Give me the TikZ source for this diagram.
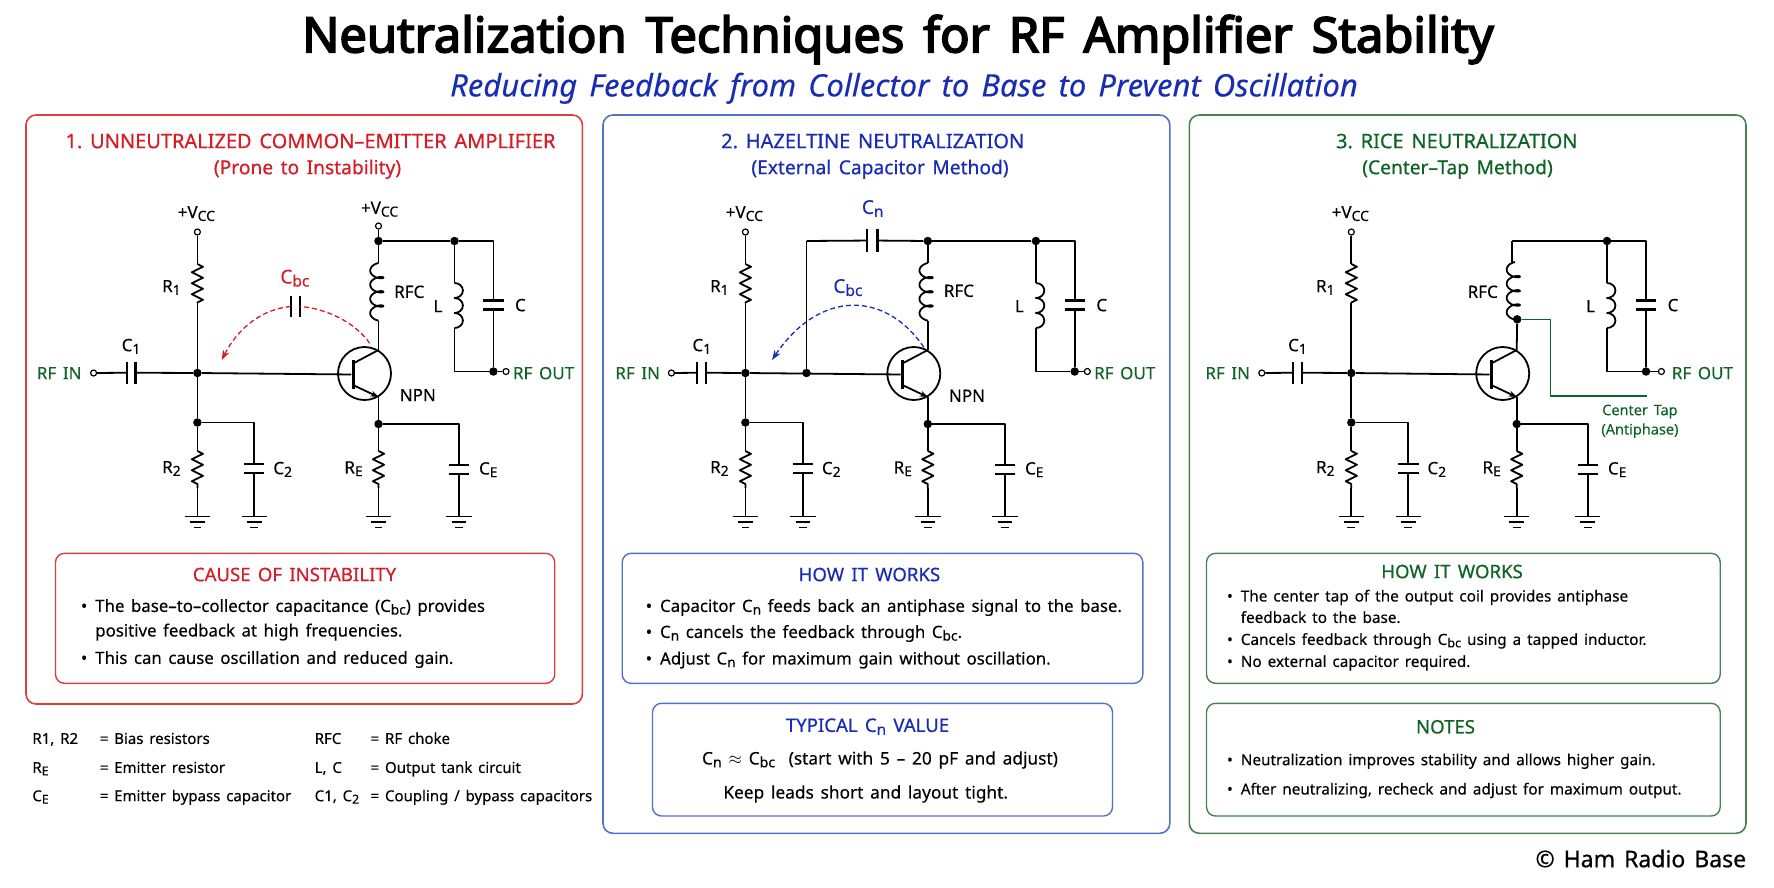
\documentclass[tikz,border=0pt]{standalone}
\usepackage{fontspec}
\setmainfont[WordSpace=1.5,FakeBold=0.2]{Noto Sans}
\newfontfamily\headfont[Ligatures=TeX,WordSpace=1.5,FakeBold=0.6]{Noto Sans}
\newfontfamily\titlefont[Ligatures=TeX,WordSpace=1.5,FakeBold=3.5]{Noto Sans}
\usetikzlibrary{positioning,arrows.meta,decorations.pathmorphing}

\definecolor{redtxt}{RGB}{214,28,38}
\definecolor{redline}{RGB}{222,62,62}
\definecolor{bluetxt}{RGB}{24,44,180}
\definecolor{blueline}{RGB}{84,112,200}
\definecolor{greentxt}{RGB}{14,100,36}
\definecolor{greenline}{RGB}{70,130,82}

\newcommand\low[1]{\raisebox{-.3ex}{\scalebox{.82}{#1}}}
\newcommand\bul{\llap{\textbullet\hspace{8pt}}}
% choke with small loops, x then top y
\newcommand\rfccoil[2]{\draw[wire] plot[domain=75:1365,samples=180,variable=\u]
  ({#1-1.7+6.6*cos(\u)},{-(#2+2.26*rad(\u-75)-3.5*sin(\u)+3.38)});}

\tikzset{
  wire/.style={line width=1.8pt,black,line join=round},
  plate/.style={line width=2.2pt,black},
  gline/.style={line width=1.8pt,black},
  junction/.style={circle,fill=black,minimum size=8.5pt},
  term/.style={circle,draw=black,fill=white,line width=1.2pt,minimum size=6pt},
  capv/.style={minimum width=20pt,minimum height=8.5pt,
    append after command={(\tikzlastnode.north west) edge[plate] (\tikzlastnode.north east)
      (\tikzlastnode.south west) edge[plate] (\tikzlastnode.south east)}},
  caph/.style={minimum width=8.5pt,minimum height=21.5pt,
    append after command={(\tikzlastnode.north west) edge[plate] (\tikzlastnode.south west)
      (\tikzlastnode.north east) edge[plate] (\tikzlastnode.south east)}},
  gnd/.style={minimum width=25pt,minimum height=10.6pt,
    append after command={(\tikzlastnode.north west) edge[gline] (\tikzlastnode.north east)
      ([xshift=5.4pt]\tikzlastnode.west) edge[gline] ([xshift=-5.4pt]\tikzlastnode.east)
      ([xshift=8.8pt]\tikzlastnode.south west) edge[gline] ([xshift=-8.8pt]\tikzlastnode.south east)}},
  zig/.style={wire,decorate,decoration={zigzag,segment length=11pt,amplitude=5.6pt}},
  qcircle/.style={circle,draw=black,line width=1.8pt,minimum size=53pt},
  qbar/.style={fill=black,minimum width=3pt,minimum height=29pt},
  cirtxt/.style={anchor=mid,yshift=-3.5pt,font=\fontsize{17}{20}\selectfont},
  bigtxt/.style={anchor=mid,yshift=-3.5pt,font=\fontsize{19}{22}\selectfont},
  tiptxt/.style={anchor=mid,yshift=-3.5pt,text=greentxt,font=\fontsize{14.5}{17}\selectfont},
  rftxt/.style={anchor=mid,yshift=-3.5pt,text=greentxt,font=\fontsize{17}{20}\selectfont},
  panel/.style={line width=1.6pt,rounded corners=10pt},
  infobox/.style={line width=1.4pt,rounded corners=9pt},
  headtxt/.style={anchor=mid,yshift=-3.5pt,font=\headfont\fontsize{20}{24}\selectfont},
  subtxt/.style={anchor=mid,yshift=-3.5pt,font=\headfont\fontsize{19.2}{22}\selectfont},
  boxhead/.style={anchor=mid,yshift=-3.5pt,font=\headfont\fontsize{18.6}{20}\selectfont},
  bodytxt/.style={anchor=mid west,yshift=-3.5pt,font=\fontsize{16.8}{20}\selectfont},
  smalltxt/.style={anchor=mid west,yshift=-3.5pt,font=\fontsize{15.3}{20}\selectfont},
  midtxt/.style={anchor=mid,yshift=-3.5pt,font=\fontsize{17.3}{20}\selectfont},
  legtxt/.style={anchor=mid west,yshift=-3.5pt,font=\fontsize{15}{18}\selectfont},
}

\begin{document}
\begin{tikzpicture}[x=1pt,y=1pt]
\tikzstyle{every node}+=[inner sep=0pt]
\useasboundingbox (0,0) rectangle (1774,-887);
% heading
\node (maintitle) at (898,-39.5) {\titlefont\fontsize{48.8}{52}\selectfont Neutralization Techniques for RF Amplifier Stability};
\node[text=bluetxt] (subtitle) at (904,-88.3) {\fontsize{31}{34}\selectfont\itshape Reducing Feedback from Collector to Base to Prevent Oscillation};
% panels
\draw[panel,redline] (26,-115) rectangle (582.4,-704);
\draw[panel,blueline] (603,-115) rectangle (1169.8,-833.3);
\draw[panel,greenline] (1189.3,-115) rectangle (1746,-833.3);
\node[headtxt,text=redtxt] (title1) at (310.5,-142) {1.\ UNNEUTRALIZED COMMON--EMITTER AMPLIFIER};
\node[subtxt,text=redtxt] (sub1) at (307.5,-168) {(Prone to Instability)};
\node[headtxt,text=bluetxt] (title2) at (872.7,-142) {2.\ HAZELTINE NEUTRALIZATION};
\node[subtxt,text=bluetxt] (sub2) at (880,-168) {(External Capacitor Method)};
\node[headtxt,text=greentxt] (title3) at (1456.8,-142) {3.\ RICE NEUTRALIZATION};
\node[subtxt,text=greentxt] (sub3) at (1457.5,-168) {(Center--Tap Method)};
% parts that all three circuits share
\foreach \p/\xin/\xterm/\xcap/\xb/\xctwo/\xq/\xce/\xl/\xc/\xot/\xrf in {
  a/59.2/93.6/131.1/197.4/254.2/378.5/458.8/454.5/493.4/506/543.6,
  b/637.7/671.4/701.8/745.4/802.8/927.8/1004.8/1035.9/1074.7/1087.3/1124.7,
  c/1227.7/1261.8/1297.5/1351.3/1408.3/1516.7/1587.7/1607/1646/1661.4/1702.4}
{
  \node[rftxt] (\p rfin) at (\xin,-373) {RF IN};
  \node[term] (\p in) at (\xterm,-373) {};
  \node[caph] (\p cone) at (\xcap,-372.7) {};
  \node[cirtxt] (\p conelbl) at (\xcap,-345) {C\low{1}};
  \node[junction] (\p base) at (\xb,-373) {};
  \node[term] (\p vcc) at (\xb,-232) {};
  \node[cirtxt] (\p vcclbl) at (\xb-1,-212) {+V\low{CC}};
  \coordinate (\p ra) at (\xb,-264);
  \coordinate (\p rb) at (\xb,-303);
  \node[cirtxt] (\p ronelbl) at (\xb-26,-286) {R\low{1}};
  \node[junction] (\p bias) at (\xb,-422.5) {};
  \coordinate (\p rc) at (\xb,-451);
  \coordinate (\p rd) at (\xb,-488);
  \node[cirtxt] (\p rtwolbl) at (\xb-26,-467) {R\low{2}};
  \node[gnd] (\p gone) at (\xb,-522) {};
  \node[capv] (\p ctwo) at (\xctwo,-468.4) {};
  \node[cirtxt] (\p ctwolbl) at (\xctwo+28.5,-468) {C\low{2}};
  \node[gnd] (\p gtwo) at (\xctwo,-522) {};
  \draw[wire] (\p in) -- (\p cone);
  \draw[wire] (\p cone) -- (\p base);
  \draw[wire] (\p vcc) -- (\p ra);
  \draw[zig] (\p ra) -- (\p rb);
  \draw[wire] (\p rb) -- (\p base);
  \draw[wire] (\p base) -- (\p bias);
  \draw[wire] (\p bias) -- (\p rc);
  \draw[zig] (\p rc) -- (\p rd);
  \draw[wire] (\p rd) -- (\p gone);
  \draw[wire] (\p bias) -| (\p ctwo);
  \draw[wire] (\p ctwo) -- (\p gtwo);
  % transistor
  \node[qcircle] (\p q) at (\xq-14,-373.5) {};
  \node[qbar] (\p bar) at (\xq-25.5,-374.5) {};
  \coordinate (\p qcs) at (\xq-25.5,-363.5);
  \coordinate (\p qes) at (\xq-25.5,-385);
  \coordinate (\p qc) at (\xq,-350);
  \coordinate (\p qe) at (\xq,-397);
  \draw[wire] (\p base) -- (\p bar);
  \draw[wire] (\p qcs) -- (\p qc);
  \draw[wire,-{Stealth[length=8pt,width=6pt]}] (\p qes) -- (\p qe);
  % emitter leg
  \node[junction] (\p ej) at (\xq,-424) {};
  \coordinate (\p rf) at (\xq,-451);
  \coordinate (\p rg) at (\xq,-488);
  \node[cirtxt] (\p relbl) at (\xq-25,-467.3) {R\low{E}};
  \node[gnd] (\p gthree) at (\xq,-522) {};
  \node[capv] (\p cem) at (\xce,-469.2) {};
  \node[cirtxt] (\p cemlbl) at (\xce+29.5,-468.3) {C\low{E}};
  \node[gnd] (\p gfour) at (\xce,-522) {};
  \draw[wire] (\p qe) -- (\p ej);
  \draw[wire] (\p ej) -- (\p rf);
  \draw[zig] (\p rf) -- (\p rg);
  \draw[wire] (\p rg) -- (\p gthree);
  \draw[wire] (\p ej) -| (\p cem);
  \draw[wire] (\p cem) -- (\p gfour);
  % output tank
  \node[junction] (\p ltop) at (\xl,-241) {};
  \coordinate (\p la) at (\xl,-283);
  \coordinate (\p lb) at (\xl,-328);
  \node[cirtxt] (\p llbl) at (\xl-16.5,-306) {L};
  \node[capv] (\p ctank) at (\xc,-305) {};
  \node[cirtxt] (\p clbl) at (\xc+27,-305) {C};
  \node[junction] (\p out) at (\xc,-371.5) {};
  \node[term] (\p outterm) at (\xot,-371.5) {};
  \node[rftxt] (\p rfout) at (\xrf,-373) {RF OUT};
  \draw[wire] (\p ltop) -- (\p la);
  \draw[wire] (\p la) arc[start angle=90,end angle=-90,x radius=8.4,y radius=7.5]
    arc[start angle=90,end angle=-90,x radius=8.4,y radius=7.5]
    arc[start angle=90,end angle=-90,x radius=8.4,y radius=7.5];
  \draw[wire] (\p lb) |- (\p out);
  \draw[wire] (\p ltop) -| (\p ctank);
  \draw[wire] (\p ctank) -- (\p out);
  \draw[wire] (\p out) -- (\p outterm);
}
% circuit 1
\node[term] (avcctwo) at (378.5,-226) {};
\node[cirtxt] (avcctwolbl) at (379.6,-207.7) {+V\low{CC}};
\node[junction] (atop) at (378.5,-241) {};
\coordinate (acoila) at (378.5,-263);
\coordinate (acoilb) at (378.5,-320.5);
\rfccoil{378.5}{263}
\node[cirtxt] (arfc) at (409.2,-291.7) {RFC};
\node[cirtxt] (anpn) at (417.8,-395) {NPN};
\draw[wire] (avcctwo) -- (atop);
\draw[wire] (atop) -- (altop);
\draw[wire] (atop) -- (acoila);
\draw[wire] (acoilb) -- (aqc);
\node[caph,minimum height=21pt] (acbc) at (295.2,-306.5) {};
\node[bigtxt,text=redtxt] (acbclbl) at (294.9,-277.3) {C\low{bc}};
\coordinate (afbs) at (369.7,-343.3);
\coordinate (afbe) at (221.7,-360);
\draw[redtxt,line width=1.3pt,dash pattern=on 5pt off 3pt] (afbs) .. controls (355,-322) and (325,-308) .. (acbc.east);
\draw[redtxt,line width=1.3pt,dash pattern=on 5pt off 3pt,-{Stealth[length=10pt,width=7pt]}] (acbc.west) .. controls (262,-309) and (238,-328) .. (afbe);
% circuit 2
\node[junction] (btop) at (927.8,-241) {};
\node[junction] (bfeed) at (806.5,-373) {};
\coordinate (bcorner) at (806.5,-241);
\node[caph,minimum width=10pt,minimum height=23.5pt] (bcn) at (872.3,-240.5) {};
\node[bigtxt,text=bluetxt] (bcnlbl) at (872.7,-207.7) {C\low{n}};
\coordinate (bcoila) at (927.8,-263);
\coordinate (bcoilb) at (927.8,-320.5);
\rfccoil{927.8}{263}
\node[cirtxt] (brfc) at (958.9,-290.7) {RFC};
\node[cirtxt] (bnpn) at (967,-395.7) {NPN};
\draw[wire] (bfeed) -- (bcorner);
\draw[wire] (bcorner) -- (bcn);
\draw[wire] (bcn) -- (btop);
\draw[wire] (btop) -- (bltop);
\draw[wire] (btop) -- (bcoila);
\draw[wire] (bcoilb) -- (bqc);
\node[bigtxt,text=bluetxt] (bcbclbl) at (847.9,-286.7) {C\low{bc}};
\coordinate (bfbs) at (923.8,-347.3);
\coordinate (bfbe) at (772,-360);
\draw[bluetxt,line width=1.3pt,dash pattern=on 5pt off 3pt,-{Stealth[length=10pt,width=7pt]}] (bfbs) .. controls (885,-290) and (819,-290) .. (bfbe);
% circuit 3
\coordinate (ccorner) at (1512.3,-241);
\coordinate (ccoila) at (1512.3,-262);
\coordinate (ccoilb) at (1516.7,-319);
\rfccoil{1515}{262}
\node[cirtxt] (crfc) at (1482.7,-291.7) {RFC};
\node[junction] (ctap) at (1517.2,-319.3) {};
\coordinate (ctapa) at (1550.7,-319.3);
\coordinate (ctapb) at (1550.7,-396);
\coordinate (ctapc) at (1646.9,-396);
\draw[wire] (ccorner) -- (cltop);
\draw[wire] (ccorner) -- (ccoila);
\draw[wire] (ctap) -- (cqc);
\draw[greentxt,line width=1.2pt] (ctap) -- (ctapa) -- (ctapb) -- (ctapc);
\node[tiptxt] (ctaplbl) at (1639.9,-409) {Center Tap};
\node[tiptxt] (cantilbl) at (1639.9,-428.3) {(Antiphase)};
% text boxes
\draw[infobox,redline] (55.5,-553.3) rectangle (554.7,-683.3);
\node[boxhead,text=redtxt] (causehead) at (294.5,-575) {CAUSE OF INSTABILITY};
\node[bodytxt] (causea) at (95.1,-605.7) {\bul The base--to--collector capacitance (C\low{bc}) provides};
\node[bodytxt] (causeb) at (95.1,-630.3) {positive feedback at high frequencies.};
\node[bodytxt] (causec) at (95.1,-657.7) {\bul This can cause oscillation and reduced gain.};
\draw[infobox,blueline] (622.2,-553.3) rectangle (1142.8,-683.3);
\node[boxhead,text=bluetxt] (howhead) at (869.4,-575) {HOW IT WORKS};
\node[bodytxt] (howa) at (659.9,-605.7) {\bul Capacitor C\low{n} feeds back an antiphase signal to the base.};
\node[bodytxt] (howb) at (659.9,-631.7) {\bul C\low{n} cancels the feedback through C\low{bc}.};
\node[bodytxt] (howc) at (659.9,-658.3) {\bul Adjust C\low{n} for maximum gain without oscillation.};
\draw[infobox,blueline] (652.5,-703.3) rectangle (1112.5,-816);
\node[boxhead,text=bluetxt] (typhead) at (867.5,-725.7) {TYPICAL C\low{n} VALUE};
\node[midtxt] (typa) at (880,-758.3) {C\low{n} $\approx$ C\low{bc}\ \ (start with 5 -- 20 pF and adjust)};
\node[midtxt] (typb) at (865.7,-792.3) {Keep leads short and layout tight.};
\draw[infobox,greenline] (1206.5,-553.3) rectangle (1720.2,-683.3);
\node[boxhead,text=greentxt] (ricehead) at (1452,-572) {HOW IT WORKS};
\node[smalltxt] (ricea) at (1240.6,-595.3) {\bul The center tap of the output coil provides antiphase};
\node[smalltxt] (riceb) at (1240.6,-616.7) {feedback to the base.};
\node[smalltxt] (ricec) at (1240.6,-638.7) {\bul Cancels feedback through C\low{bc} using a tapped inductor.};
\node[smalltxt] (riced) at (1240.6,-660.7) {\bul No external capacitor required.};
\draw[infobox,greenline] (1206.5,-703.3) rectangle (1720.2,-816);
\node[boxhead,text=greentxt] (noteshead) at (1445.5,-727.3) {NOTES};
\node[smalltxt] (notesa) at (1240.6,-759) {\bul Neutralization improves stability and allows higher gain.};
\node[smalltxt] (notesb) at (1240.6,-788.3) {\bul After neutralizing, recheck and adjust for maximum output.};
% legend
\node[legtxt] (lega) at (32.2,-737.7) {R1, R2};
\node[legtxt] (legb) at (99.6,-737.7) {= Bias resistors};
\node[legtxt] (legc) at (32.2,-766.7) {R\low{E}};
\node[legtxt] (legd) at (99.6,-766.7) {= Emitter resistor};
\node[legtxt] (lege) at (32.2,-795) {C\low{E}};
\node[legtxt] (legf) at (99.6,-795) {= Emitter bypass capacitor};
\node[legtxt] (legg) at (314.5,-737.7) {RFC};
\node[legtxt] (legh) at (370.4,-737.7) {= RF choke};
\node[legtxt] (legi) at (314.5,-766.7) {L, C};
\node[legtxt] (legj) at (370.4,-766.7) {= Output tank circuit};
\node[legtxt] (legk) at (314.5,-795) {C1, C\low{2}};
\node[legtxt] (legl) at (370.4,-795) {= Coupling / bypass capacitors};
% credit
\node[anchor=mid east,yshift=-3.5pt,font=\headfont\fontsize{23}{28}\selectfont] (credit) at (1746.3,-861) {\textcopyright\ Ham Radio Base};
\end{tikzpicture}
\end{document}
